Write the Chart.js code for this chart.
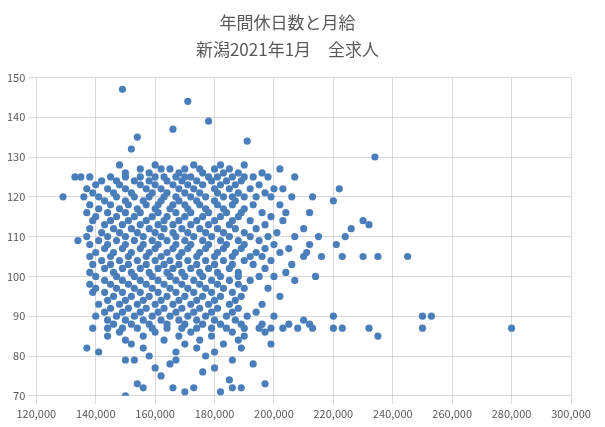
<!DOCTYPE html>
<html><head><meta charset="utf-8">
<script src="https://cdn.jsdelivr.net/npm/chart.js@4"></script>
<style>body{margin:0;background:#fff}#wrap{width:605px;height:427px}</style>
</head><body><div id="wrap"><canvas id="c"></canvas></div>
<script>
// 年間休日数 -> 月給(千円) の一覧
const holidayDays = [147,144,139,137,135,134,132,130,128,127,126,125,124,123,122,121,120,119,118,117,116,115,114,113,112,111,110,109,108,107,106,105,104,103,102,101,100,99,98,97,96,95,94,93,92,91,90,89,88,87,86,85,84,83,82,81,80,79,78,77,76,75,74,73,72,71,70];
const salaryByDay = [
[149],[171],[178],[166],[154],[191],[152],[234],
[148,160,173,182,190],
[155,162,165,170,175,180,185,202],
[150,158,168,176,183,188,196],
[133,135,138,145,150,155,160,163,167,170,172,178,181,186,190,193,198,207],
[142,147,153,158,164,169,174,179,184,189],
[140,148,155,160,166,171,176,182,187,195],
[137,144,150,157,162,168,173,180,185,192,200,203,222],
[139,146,152,159,164,170,175,181,188,197],
[129,136,141,147,153,158,163,167,172,177,183,186,190,194,199,206,213],
[143,150,156,162,168,174,180,187,220],
[138,145,151,157,161,166,170,175,181,186,193,202],
[141,148,154,160,165,171,177,183,190],
[137,144,150,155,161,167,172,178,184,189,196,204,212],
[140,147,153,159,164,170,176,182,188,199],
[139,145,151,157,163,168,174,180,186,192,203,230],
[143,149,155,161,166,172,178,185,197,232],
[138,146,152,158,163,169,175,181,187,194,210,226],
[142,148,154,160,166,171,177,183,190,201],
[137,144,150,156,162,167,173,179,185,192,198,207,215,224],
[134,141,147,153,159,164,170,176,182,188,195],
[138,144,150,156,161,167,172,178,184,190,200,212,221],
[143,149,155,160,166,171,177,183,189,197,205],
[140,146,152,158,164,169,175,181,187,194,202,211],
[138,145,151,157,162,168,174,180,186,192,196,210,216,223,230,235,245],
[142,148,154,160,165,171,177,183,190,199],
[139,145,151,157,163,168,174,180,186,193,206],
[143,149,155,161,166,172,178,185,197],
[138,146,152,158,164,169,175,181,188,204],
[140,147,153,159,165,170,176,182,188,195,200,214],
[143,149,155,161,167,173,179,185,192,207],
[138,145,151,157,163,169,175,181,188],
[140,147,153,159,165,171,177,183,190,198],
[139,143,149,155,161,167,173,179,186],
[146,152,158,164,170,176,182,189,202],
[144,150,156,162,168,174,180,187],
[141,148,154,160,166,172,178,185,196],
[145,151,157,163,169,175,181,188],
[143,149,155,161,167,173,179,186,194],
[140,147,153,159,165,171,177,184,191,200,220,250,253],
[144,150,156,162,168,174,180,187,210],
[146,152,158,164,170,176,182,189,196,205,212],
[139,144,149,154,159,164,169,174,179,184,190,195,199,203,208,213,220,223,232,250,280],
[148,160,172,186,197],
[144,156,168,179,190,235],
[150,163,175,188],
[152,170,183,199],
[137,156,174,189],
[141,167,180],
[158,177],
[150,153,167,186],
[165,193],
[160,180],
[176],[162],[185],
[154,197],
[156,166,173,186,189],
[170,182],
[150]
];
const points = [];
holidayDays.forEach((d, i) => salaryByDay[i].forEach(s => points.push({ x: s * 1000, y: d })));

const grid = { color: "#d9d9d9" };
const tick = { color: "#595959", font: { size: 11, family: "Noto Sans CJK JP" } };
new Chart(document.getElementById("c"), {
    type: "scatter",
    data: { datasets: [{ data: points, backgroundColor: "#4a7ebb", borderWidth: 0, pointRadius: 3.6 }] },
    options: {
        responsive: true, maintainAspectRatio: false, animation: false,
        layout: { padding: { left: 4, right: 34, top: 9, bottom: 4 } },
        plugins: {
            legend: { display: false }, tooltip: { enabled: false },
            title: { display: true, text: ["年間休日数と月給", "新潟2021年1月　全求人"], color: "#595959",
                font: { size: 17, weight: "normal", family: "Noto Sans CJK JP", lineHeight: 1.6 }, padding: { bottom: 14 } },
        },
        scales: {
            x: { min: 120000, max: 300000, ticks: { ...tick, stepSize: 20000, callback: v => v.toLocaleString("en-US") }, grid, border: { color: "#d9d9d9" } },
            y: { min: 70, max: 150, ticks: { ...tick, stepSize: 10 }, grid, border: { color: "#d9d9d9" } },
        },
    },
});
</script></body></html>
